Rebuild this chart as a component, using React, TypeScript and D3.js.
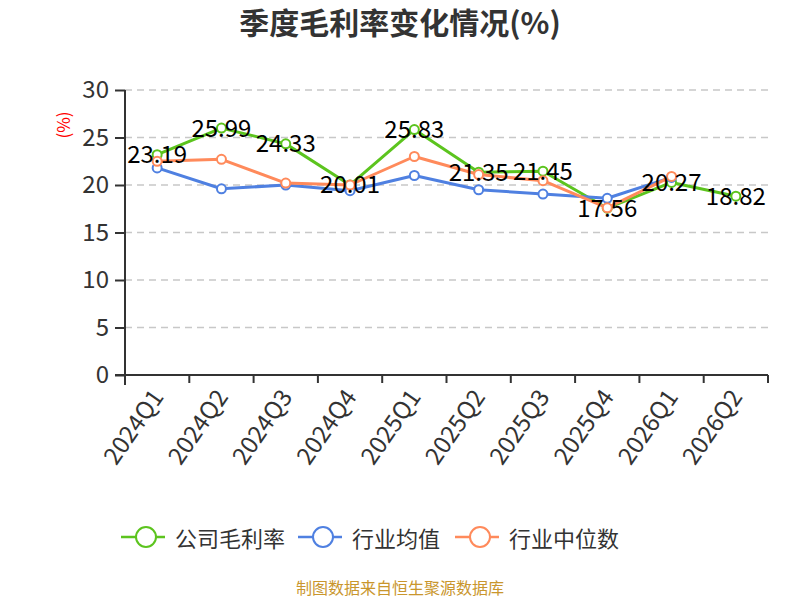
import { useEffect, useRef } from "react";
import * as d3 from "d3";

const categories = ["2024Q1", "2024Q2", "2024Q3", "2024Q4", "2025Q1", "2025Q2", "2025Q3", "2025Q4", "2026Q1", "2026Q2"];
const companyRate = [23.19, 25.99, 24.33, 20.01, 25.83, 21.35, 21.45, 17.56, 20.27, 18.82];
const industryAvg = [21.8, 19.6, 20.0, 19.4, 21.0, 19.5, 19.05, 18.6, 20.8, null];
const industryMedian = [22.5, 22.7, 20.2, 20.0, 23.0, 21.1, 20.45, 17.6, 20.9, null];
const yTicks = [0, 5, 10, 15, 20, 25, 30];

const seriesList = [
  { name: "公司毛利率", color: "#5cc41e", values: companyRate, labels: true },
  { name: "行业均值", color: "#4f80e1", values: industryAvg, labels: false },
  { name: "行业中位数", color: "#ff8a5b", values: industryMedian, labels: false },
];

const FONT = "'Noto Sans CJK SC', 'Noto Sans', sans-serif";

export default function App() {
  const ref = useRef<SVGSVGElement | null>(null);

  useEffect(() => {
    if (!ref.current) return;
    const svg = d3.select(ref.current);
    svg.selectAll("*").remove();

    const width = 800;
    const height = 600;
    const margin = { top: 90, right: 32, bottom: 225, left: 125 };

    const x = d3.scaleBand<string>()
      .domain(categories)
      .range([margin.left, width - margin.right]);
    const y = d3.scaleLinear()
      .domain([0, 30])
      .range([height - margin.bottom, margin.top]);
    const cx = (c: string) => x(c)! + x.bandwidth() / 2;

    // Title
    svg.append("text")
      .attr("x", width / 2)
      .attr("y", 34)
      .attr("text-anchor", "middle")
      .attr("font-size", 30)
      .attr("font-weight", "bold")
      .attr("fill", "#333")
      .text("季度毛利率变化情况(%)");

    // Grid lines
    svg.append("g")
      .selectAll("line")
      .data(yTicks.filter(t => t > 0))
      .enter()
      .append("line")
      .attr("x1", margin.left)
      .attr("x2", width - margin.right)
      .attr("y1", d => y(d))
      .attr("y2", d => y(d))
      .attr("stroke", "#c8c8c8")
      .attr("stroke-width", 1.5)
      .attr("stroke-dasharray", "7,5");

    // Y axis
    const yAxis = svg.append("g")
      .attr("transform", `translate(${margin.left},0)`)
      .call(d3.axisLeft(y).tickValues(yTicks).tickSize(10).tickPadding(6));
    yAxis.select(".domain").remove();
    yAxis.selectAll(".tick line").attr("stroke", "#333").attr("stroke-width", 2);
    yAxis.selectAll("text")
      .attr("fill", "#333")
      .attr("font-size", 24)
      .attr("font-family", FONT);
    svg.append("line")
      .attr("x1", margin.left)
      .attr("x2", margin.left)
      .attr("y1", margin.top)
      .attr("y2", y(0) + 10)
      .attr("stroke", "#333")
      .attr("stroke-width", 2);

    // Y axis name
    svg.append("text")
      .attr("transform", `translate(62,125) rotate(-90)`)
      .attr("text-anchor", "middle")
      .attr("dominant-baseline", "central")
      .attr("fill", "red")
      .attr("font-size", 17)
      .text("(%)");

    // X axis
    const xAxisG = svg.append("g").attr("transform", `translate(0,${y(0)})`);
    xAxisG.append("line")
      .attr("x1", margin.left - 10)
      .attr("x2", width - margin.right)
      .attr("stroke", "#333")
      .attr("stroke-width", 2);
    xAxisG.selectAll("line.tk")
      .data(categories.concat(["__end"]))
      .enter()
      .append("line")
      .attr("class", "tk")
      .attr("x1", (d, i) => i < categories.length ? x(d)! : width - margin.right)
      .attr("x2", (d, i) => i < categories.length ? x(d)! : width - margin.right)
      .attr("y1", 0)
      .attr("y2", 8)
      .attr("stroke", "#333")
      .attr("stroke-width", 2);
    xAxisG.selectAll("text")
      .data(categories)
      .enter()
      .append("text")
      .attr("transform", d => `translate(${cx(d) - 1},${16}) rotate(-55)`)
      .attr("text-anchor", "end")
      .attr("dominant-baseline", "central")
      .attr("fill", "#333")
      .attr("font-size", 24)
      .text(d => d);

    // Lines and points
    const line = d3.line<{ c: string; v: number | null }>()
      .defined(d => d.v != null)
      .x(d => cx(d.c))
      .y(d => y(d.v as number));

    seriesList.forEach(s => {
      const pts = categories.map((c, i) => ({ c, v: s.values[i] as number | null }));
      svg.append("path")
        .datum(pts)
        .attr("fill", "none")
        .attr("stroke", s.color)
        .attr("stroke-width", 3)
        .attr("stroke-linejoin", "round")
        .attr("d", line);
      svg.append("g")
        .selectAll("circle")
        .data(pts.filter(p => p.v != null))
        .enter()
        .append("circle")
        .attr("cx", d => cx(d.c))
        .attr("cy", d => y(d.v as number))
        .attr("r", 4.5)
        .attr("fill", "#fff")
        .attr("stroke", s.color)
        .attr("stroke-width", 2);
    });

    // Data labels
    seriesList.filter(s => s.labels).forEach(s => {
      svg.append("g")
        .selectAll("text")
        .data(categories.map((c, i) => ({ c, v: s.values[i] as number })))
        .enter()
        .append("text")
        .attr("x", d => cx(d.c))
        .attr("y", d => y(d.v) - 2)
        .attr("text-anchor", "middle")
        .attr("dominant-baseline", "central")
        .attr("fill", "#000")
        .attr("font-size", 24)
        .text(d => d.v.toFixed(2));
    });

    // Legend
    const legendX = [121, 298, 455];
    const legend = svg.append("g");
    seriesList.forEach((s, i) => {
      const g = legend.append("g").attr("transform", `translate(${legendX[i]},537)`);
      g.append("line")
        .attr("x1", 0).attr("x2", 44)
        .attr("stroke", s.color).attr("stroke-width", 2.5);
      g.append("circle")
        .attr("cx", 25).attr("r", 10)
        .attr("fill", "#fff").attr("stroke", s.color).attr("stroke-width", 2);
      g.append("text")
        .attr("x", 54)
        .attr("dominant-baseline", "central")
        .attr("fill", "#333")
        .attr("font-size", 22)
        .text(s.name);
    });

    // Footer
    svg.append("text")
      .attr("x", width / 2)
      .attr("y", 594)
      .attr("text-anchor", "middle")
      .attr("fill", "#c9962d")
      .attr("font-size", 16)
      .text("制图数据来自恒生聚源数据库");
  }, []);

  return (
    <svg
      ref={ref}
      width={800}
      height={600}
      style={{ position: "absolute", left: 0, top: 0, background: "#fff", fontFamily: FONT }}
    />
  );
}
